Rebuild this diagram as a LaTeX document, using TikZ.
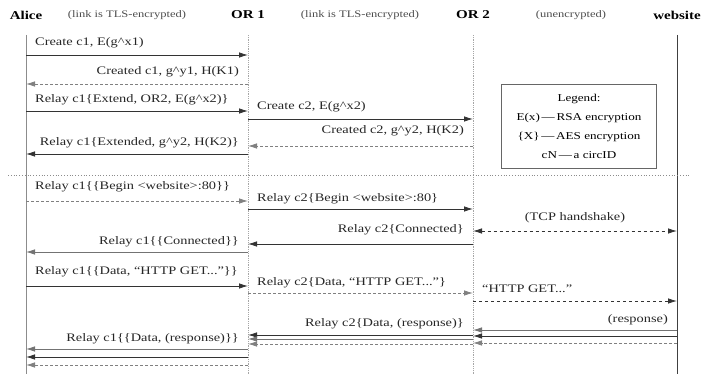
\documentclass[tikz,border=0pt]{standalone}
\usepackage{fontspec}
\setmainfont{Liberation Serif}[FakeStretch=1.25]
\usepackage{tikz}
\usetikzlibrary{arrows.meta, positioning, calc}

\begin{document}
\begin{tikzpicture}[
    x=1pt, y=-1pt,
    actor/.style={font=\fontsize{12}{14}\selectfont\bfseries, inner sep=1pt},
    linknote/.style={font=\fontsize{10}{12}\selectfont, text=black!70, inner sep=1pt},
    lbl/.style={font=\fontsize{11.5}{13}\selectfont, text=black!85, inner sep=1pt},
    life/.style={black!45, line width=0.8pt},
    lifedot/.style={black!35, line width=0.8pt, densely dotted},
    fwd/.style={-{Latex[length=9pt,width=5.5pt]}, black!80, line width=0.8pt},
    back/.style={-{Latex[length=9pt,width=5.5pt]}, black!50, line width=0.8pt, densely dashed},
    plain/.style={-{Latex[length=9pt,width=5.5pt]}, black!55, line width=0.8pt},
    tcp/.style={{Latex[length=9pt,width=5.5pt]}-{Latex[length=9pt,width=5.5pt]}, black!80, line width=0.8pt, dashed},
    sep/.style={black!45, line width=0.8pt, dotted},
    legendbox/.style={draw=black!60, line width=0.9pt, minimum width=155pt, minimum height=84pt, align=center, font=\fontsize{10.5}{19}\selectfont},
  ]
    \useasboundingbox (0,0) rectangle (704,374);

    % heads
    \node[actor] (alice) at (26,15) {Alice};
    \node[actor] (or1) at (248,15) {OR 1};
    \node[actor] (or2) at (473,15) {OR 2};
    \node[actor] (web) at (677,15) {website};
    \node[linknote] (tls1) at (127,15) {(link is TLS-encrypted)};
    \node[linknote] (tls2) at (360,15) {(link is TLS-encrypted)};
    \node[linknote] (noenc) at (571,15) {(unencrypted)};

    % lifelines
    \draw[life] (alice |- 0,35) -- (alice |- 0,374);
    \draw[lifedot] (or1 |- 0,35) -- (or1 |- 0,374);
    \draw[lifedot] (or2 |- 0,35) -- (or2 |- 0,374);
    \draw[life, black!75] (web |- 0,35) -- (web |- 0,374);

    % building the circuit
    \node[lbl, anchor=west] (m1) at ($(alice |- 0,43)+(8,0)$) {Create c1, E(g\textasciicircum x1)};
    \draw[fwd] (alice |- 0,55) -- (or1 |- 0,55);
    \node[lbl, anchor=east] (m2) at ($(or1 |- 0,72)+(-8,0)$) {Created c1, g\textasciicircum y1, H(K1)};
    \draw[back] (or1 |- 0,84) -- (alice |- 0,84);
    \node[lbl, anchor=west] (m3) at ($(alice |- 0,100)+(8,0)$) {Relay c1\{Extend, OR2, E(g\textasciicircum x2)\}};
    \draw[fwd] (alice |- 0,111) -- (or1 |- 0,111);
    \node[lbl, anchor=west] (m4) at ($(or1 |- 0,107)+(8,0)$) {Create c2, E(g\textasciicircum x2)};
    \draw[fwd] (or1 |- 0,119) -- (or2 |- 0,119);
    \node[lbl, anchor=east] (m5) at ($(or2 |- 0,131)+(-8,0)$) {Created c2, g\textasciicircum y2, H(K2)};
    \draw[back] (or2 |- 0,146) -- (or1 |- 0,146);
    \node[lbl, anchor=east] (m6) at ($(or1 |- 0,143)+(-8,0)$) {Relay c1\{Extended, g\textasciicircum y2, H(K2)\}};
    \draw[fwd] (or1 |- 0,154) -- (alice |- 0,154);

    \node[legendbox] (legend) at (579,126) {Legend:\\E(x)\,---\,RSA encryption\\\{X\}\,---\,AES encryption\\cN\,---\,a circID};

    \coordinate (sepL) at (8,175);
    \coordinate (sepR) at (690,175);
    \draw[sep] (sepL) -- (sepR);

    % opening the stream
    \node[lbl, anchor=west] (m7) at ($(alice |- 0,187)+(8,0)$) {Relay c1\{\{Begin <website>:80\}\}};
    \draw[back] (alice |- 0,201) -- (or1 |- 0,201);
    \node[lbl, anchor=west] (m8) at ($(or1 |- 0,199)+(8,0)$) {Relay c2\{Begin <website>:80\}};
    \draw[fwd] (or1 |- 0,209) -- (or2 |- 0,209);
    \node[lbl] (m9) at ($(or2 |- 0,218)!0.5!(web |- 0,218)$) {(TCP handshake)};
    \draw[tcp] (or2 |- 0,231) -- (web |- 0,231);
    \node[lbl, anchor=east] (m10) at ($(or2 |- 0,230)+(-8,0)$) {Relay c2\{Connected\}};
    \draw[fwd] (or2 |- 0,244) -- (or1 |- 0,244);
    \node[lbl, anchor=east] (m11) at ($(or1 |- 0,242)+(-8,0)$) {Relay c1\{\{Connected\}\}};
    \draw[plain] (or1 |- 0,252) -- (alice |- 0,252);

    % data
    \node[lbl, anchor=west] (m12) at ($(alice |- 0,272)+(8,0)$) {Relay c1\{\{Data, ``HTTP GET...''\}\}};
    \draw[fwd] (alice |- 0,286) -- (or1 |- 0,286);
    \node[lbl, anchor=west] (m13) at ($(or1 |- 0,283)+(8,0)$) {Relay c2\{Data, ``HTTP GET...''\}};
    \draw[back] (or1 |- 0,293) -- (or2 |- 0,293);
    \node[lbl, anchor=west] (m14) at ($(or2 |- 0,289)+(8,0)$) {``HTTP GET...''};
    \draw[fwd, dashed] (or2 |- 0,301) -- (web |- 0,301);

    \node[lbl, anchor=east] (m15) at ($(web |- 0,320)+(-8,0)$) {(response)};
    \foreach \y/\s in {330/plain, 336/fwd, 343/back}
      \draw[\s] (web |- 0,\y) -- (or2 |- 0,\y);
    \node[lbl, anchor=east] (m16) at ($(or2 |- 0,324)+(-8,0)$) {Relay c2\{Data, (response)\}};
    \foreach \y/\s in {335/fwd, 339/plain, 344/back}
      \draw[\s] (or2 |- 0,\y) -- (or1 |- 0,\y);
    \node[lbl, anchor=east] (m17) at ($(or1 |- 0,339)+(-8,0)$) {Relay c1\{\{Data, (response)\}\}};
    \foreach \y/\s in {349/plain, 357/fwd, 365/back}
      \draw[\s] (or1 |- 0,\y) -- (alice |- 0,\y);
  \end{tikzpicture}
\end{document}
